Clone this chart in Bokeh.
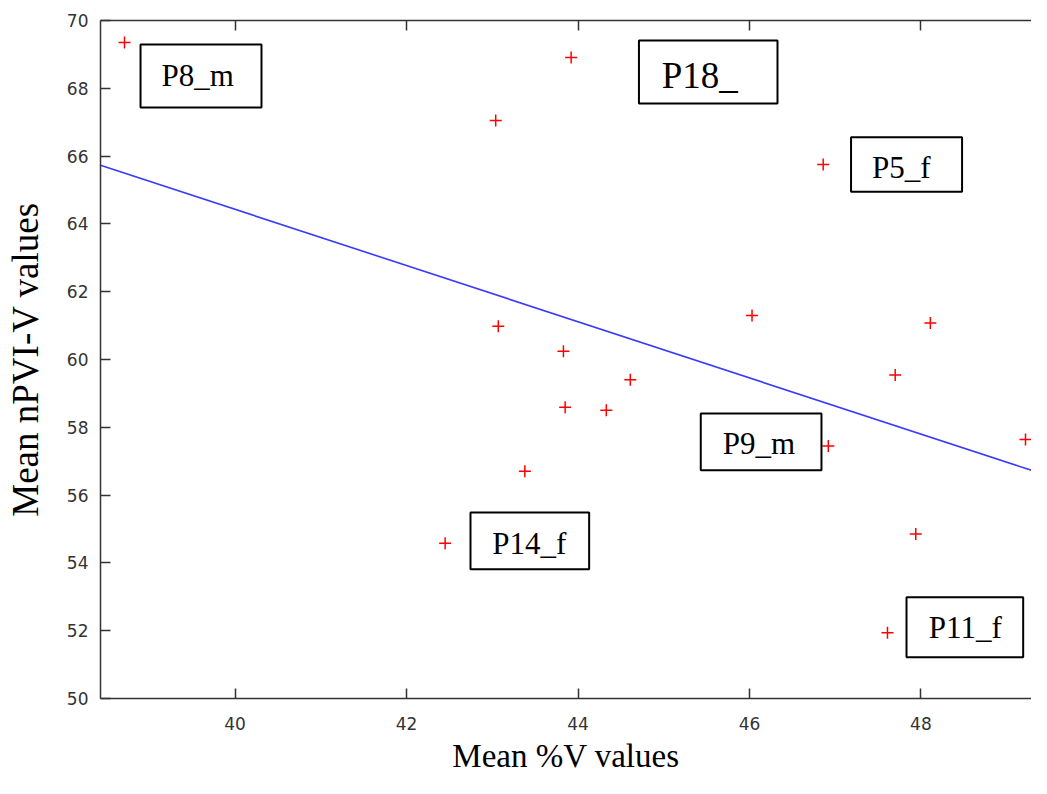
from bokeh.plotting import figure
from bokeh.models import Range1d, LinearAxis, FixedTicker, BoxAnnotation, Label
from bokeh.embed import file_html
from bokeh.resources import INLINE

# ---- data ----
x_vals = [38.71, 43.92, 43.04, 46.86, 43.07, 43.83, 44.61, 43.85, 44.33,
          43.38, 46.03, 48.11, 47.70, 46.92, 49.22, 42.45, 47.94, 47.61]
y_vals = [69.35, 68.91, 67.05, 65.75, 60.98, 60.24, 59.40, 58.59, 58.50,
          56.70, 61.30, 61.08, 59.54, 57.45, 57.64, 54.58, 54.85, 51.94]
fit_x = [38.43, 49.35]
fit_y = [65.73, 56.68]
x_ticks = [40, 42, 44, 46, 48]
y_ticks = [50, 52, 54, 56, 58, 60, 62, 64, 66, 68, 70]
label_names = ["P8_m", "P18_", "P5_f", "P9_m", "P14_f", "P11_f"]
x_title = "Mean %V values"
y_title = "Mean nPVI-V values"

# ---- layout of the label boxes (data coords): left, right, bottom, top, text x, text y(cap centre), font size
label_layout = [
    (38.897, 40.308, 67.434, 69.292, 39.142, 68.392, "31px"),
    (44.711, 46.327, 67.552, 69.410, 44.977, 68.392, "37px"),
    (47.185, 48.480, 64.947, 66.557, 47.430, 65.649, "31px"),
    (45.432, 46.840, 56.735, 58.407, 45.689, 57.512, "31px"),
    (42.746, 44.130, 53.814, 55.487, 43.000, 54.563, "31px"),
    (47.832, 49.193, 51.218, 52.988, 48.092, 52.080, "31px"),
]

p = figure(width=1031, height=778, output_backend="svg", toolbar_location=None,
           x_range=Range1d(38.43, 49.29), y_range=Range1d(50, 70),
           x_axis_location=None, y_axis_location=None,
           min_border_left=100, min_border_right=0, min_border_top=20, min_border_bottom=80)
p.outline_line_color = None
p.xgrid.visible = False
p.ygrid.visible = False
p.background_fill_color = "white"
p.border_fill_color = "white"

axis_col = "#333333"

def style_axis(ax, ticks):
    ax.ticker = FixedTicker(ticks=ticks)
    ax.axis_line_color = axis_col
    ax.axis_line_width = 1.5
    ax.major_tick_line_color = axis_col
    ax.major_tick_line_width = 1.5
    ax.major_tick_in = 10
    ax.major_tick_out = 0
    ax.minor_tick_line_color = None
    ax.major_label_text_font = "DejaVu Sans"
    ax.major_label_text_font_size = "17px"
    ax.major_label_text_color = axis_col

xb = LinearAxis(axis_label=x_title)
style_axis(xb, x_ticks)
xb.major_label_standoff = 18
xb.axis_label_text_font = "Liberation Serif"
xb.axis_label_text_font_size = "33px"
xb.axis_label_text_font_style = "normal"
xb.axis_label_text_color = "black"
xb.axis_label_standoff = 5
p.add_layout(xb, "below")

xt = LinearAxis()
style_axis(xt, x_ticks)
xt.major_label_text_font_size = "1px"
xt.major_label_text_color = None
xt.major_label_standoff = 0
p.add_layout(xt, "above")

yl = LinearAxis(axis_label=y_title)
style_axis(yl, y_ticks)
yl.major_label_standoff = 12
yl.axis_label_text_font = "Liberation Serif"
yl.axis_label_text_font_size = "37px"
yl.axis_label_text_font_style = "normal"
yl.axis_label_text_color = "black"
yl.axis_label_standoff = 18
p.add_layout(yl, "left")

p.line(fit_x, fit_y, line_color="#3a3aff", line_width=1.6)
p.scatter(x_vals, y_vals, marker="cross", size=12, line_color="#ff0000", line_width=1.5)

for name, (l, r, b, t, tx, ty, fs) in zip(label_names, label_layout):
    p.add_layout(BoxAnnotation(left=l, right=r, bottom=b, top=t,
                               fill_color="white", fill_alpha=1.0,
                               line_color="black", line_width=2, line_alpha=1.0))
    p.add_layout(Label(x=tx, y=ty, text=name, text_font="Liberation Serif",
                       text_font_size=fs, text_color="black",
                       text_align="left", text_baseline="middle"))

open("out.html", "w").write(file_html(p, INLINE))
